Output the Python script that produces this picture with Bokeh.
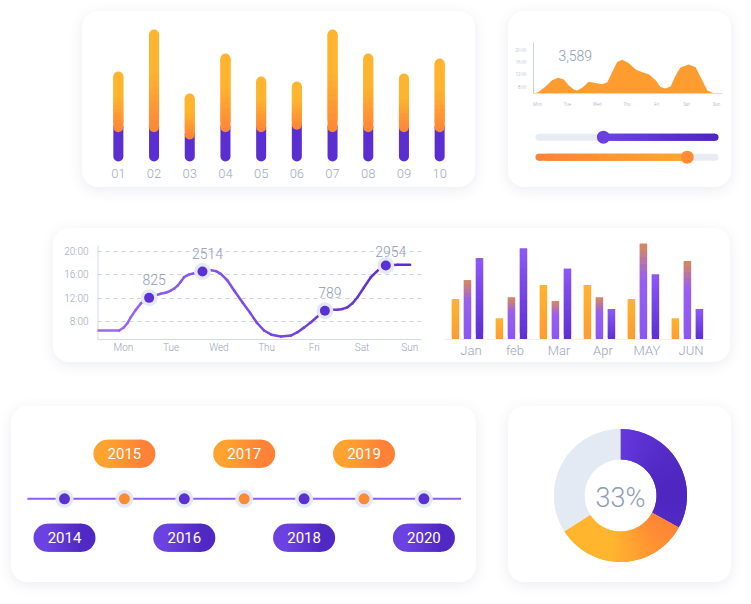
import numpy as np
from bokeh.plotting import figure
from bokeh.models import Range1d, FactorRange, FixedTicker, Spacer, Label
from bokeh.layouts import row, column
from bokeh.embed import file_html
from bokeh.resources import INLINE
from bokeh.core.properties import value

FONT = "Roboto"
LIGHT = "Roboto Light"

# ---------------- data ----------------
bar_labels = ["01", "02", "03", "04", "05", "06", "07", "08", "09", "10"]
bar_totals = [65.6, 100, 47.5, 80.3, 61.5, 57.4, 100, 80.3, 63.9, 76.2]
bar_base = [24, 24, 18, 24, 24, 26, 24, 24, 24, 24]

area_days = ["Mon", "Tue", "Wed", "Thu", "Fri", "Sat", "Sun"]
area_hours = [8, 12, 16, 20]
area_x = [-0.12, 0.04, 0.27, 0.49, 0.69, 0.88, 1.05, 1.22, 1.33, 1.50,
          1.72, 1.94, 2.17, 2.34, 2.50, 2.67, 2.84, 3.06, 3.29, 3.51,
          3.73, 3.96, 4.12, 4.29, 4.46, 4.63, 4.79, 5.07, 5.30, 5.52,
          5.69, 5.91, 6.19]
area_y = [6.0, 6.5, 8.3, 10.3, 11.1, 10.5, 8.6, 7.3, 7.0, 7.9,
          9.8, 9.4, 9.0, 9.6, 12.9, 16.2, 16.9, 15.8, 13.8, 12.9,
          12.2, 10.3, 8.1, 7.6, 8.3, 11.9, 14.4, 15.4, 14.5, 10.3,
          7.0, 6.1, 6.0]
area_total = "3,589"
slider_values = [0.366, 0.842]

line_days = ["Mon", "Tue", "Wed", "Thu", "Fri", "Sat", "Sun"]
line_hours = [8, 12, 16, 20]
line_x = [-0.545, -0.09, 0.006, 0.08, 0.153, 0.25, 0.363, 0.45, 0.537, 0.66,
          0.782, 0.90, 0.992, 1.07, 1.138, 1.20, 1.270, 1.37, 1.480, 1.656,
          1.75, 1.830, 1.94, 2.040, 2.18, 2.319, 2.50, 2.669, 2.80, 2.948,
          3.10, 3.300, 3.509, 3.648, 3.79, 3.929, 4.08, 4.222, 4.36, 4.486,
          4.60, 4.696, 4.80, 4.906, 5.04, 5.184, 5.35, 5.499, 5.75, 6.008]
line_y = [6.46, 6.46, 6.98, 7.7, 8.73, 9.9, 11.07, 11.7, 12.04, 12.45,
          12.73, 12.95, 13.29, 13.65, 14.14, 14.8, 15.56, 16.0, 16.25, 16.53,
          16.7, 16.75, 16.6, 16.14, 15.0, 13.29, 11.2, 9.31, 7.75, 6.46,
          5.75, 5.44, 5.61, 6.17, 7.0, 7.88, 8.95, 9.83, 10.0, 10.0,
          10.15, 10.44, 11.1, 12.15, 13.8, 15.56, 16.85, 17.56, 17.68, 17.68]
marker_x = [0.537, 1.656, 4.222, 5.499]
marker_y = [12.04, 16.53, 9.83, 17.56]
marker_labels = ["825", "2514", "789", "2954"]

month_labels = ["Jan", "feb", "Mar", "Apr", "MAY", "JUN"]
series_a = [42, 22, 57, 57, 42, 22]
series_b = [62, 44, 40, 44, 100, 82]
series_c = [85, 95, 74, 32, 68, 32]

years = [2014, 2015, 2016, 2017, 2018, 2019, 2020]

donut_values = [33, 33, 34]
donut_label = "33%"

# ---------------- helpers ----------------
def hex2rgb(h):
    h = h.lstrip("#")
    return tuple(int(h[i:i + 2], 16) for i in (0, 2, 4))


def mix(c1, c2, t):
    t = min(max(t, 0.0), 1.0)
    a, b = hex2rgb(c1), hex2rgb(c2)
    return "#%02x%02x%02x" % tuple(int(round(a[i] + (b[i] - a[i]) * t)) for i in range(3))


def ramp(stops, t):
    t = min(max(t, 0.0), 1.0)
    for (p0, c0), (p1, c1) in zip(stops[:-1], stops[1:]):
        if t <= p1:
            return mix(c0, c1, (t - p0) / (p1 - p0) if p1 > p0 else 0)
    return stops[-1][1]


CARD = {"background-color": "#ffffff", "border-radius": "16px",
        "box-shadow": "0 3px 14px rgba(60, 70, 120, 0.10)", "overflow": "hidden"}


def mkfig(w, h, xr, yr, **kw):
    p = figure(width=w, height=h, x_range=xr, y_range=yr, output_backend="svg",
               toolbar_location=None, title=None, **kw)
    p.outline_line_color = None
    p.background_fill_color = None
    p.border_fill_color = None
    p.xgrid.visible = False
    p.ygrid.visible = False
    return p


def style_axis(ax, size, color, standoff, line=None):
    ax.axis_line_color = line
    ax.major_tick_line_color = None
    ax.minor_tick_line_color = None
    ax.major_tick_out = 0
    ax.major_tick_in = 0
    ax.minor_tick_out = 0
    ax.major_label_text_font = LIGHT
    ax.major_label_text_font_size = size
    ax.major_label_text_color = color
    ax.major_label_standoff = standoff


# ---------------- card A: rounded bars ----------------
pA = mkfig(393, 176, FactorRange(*bar_labels), Range1d(-4.92, 110.66), y_axis_type=None,
           min_border_left=18, min_border_right=18, min_border_top=10, min_border_bottom=25)
pA.styles = CARD
style_axis(pA.xaxis[0], "13px", "#9DA9C1", 6)
pA.segment(x0=bar_labels, y0=0, x1=bar_labels, y1=bar_base, line_width=10,
           line_cap="round", line_color="#5A2ED0")
A_BOT, A_TOP = "#FF8836", "#FFB42E"
pA.scatter(x=bar_labels, y=bar_base, size=10, fill_color=A_BOT, line_color=None)
xs, y0s, y1s, cols = [], [], [], []
N = 14
for lab, v, b in zip(bar_labels, bar_totals, bar_base):
    for j in range(N):
        xs.append(lab)
        y0s.append(b + (v - b) * j / N)
        y1s.append(b + (v - b) * min(j + 2, N) / N)
        cols.append(mix(A_BOT, A_TOP, ((j + 0.5) / N) / 0.6))
pA.segment(x0=xs, y0=y0s, x1=xs, y1=y1s, line_width=10, line_cap="butt", line_color=cols)
pA.scatter(x=bar_labels, y=bar_totals, size=10, fill_color=A_TOP, line_color=None)

# ---------------- card B: area + sliders ----------------
pB1 = mkfig(223, 100, Range1d(-0.134, 6.2), Range1d(6, 22.5),
            min_border_left=25, min_border_right=9, min_border_top=31, min_border_bottom=18)
pB1.varea(x=area_x, y1=6, y2=area_y, fill_color="#FF9C2F")
style_axis(pB1.xaxis[0], "4.5px", "#9AA5BF", 8, "#D6DCE7")
pB1.xaxis[0].ticker = FixedTicker(ticks=list(range(len(area_days))))
pB1.xaxis[0].major_label_overrides = {i: d for i, d in enumerate(area_days)}
style_axis(pB1.yaxis[0], "4.5px", "#9AA5BF", 7, "#C9D1DE")
pB1.yaxis[0].ticker = FixedTicker(ticks=area_hours)
pB1.yaxis[0].major_label_overrides = {h: "%d:00" % h for h in area_hours}
pB1.add_layout(Label(x=0.70, y=18.3, text=area_total, text_font=LIGHT, text_font_size="14px",
                     text_color="#8C9AB5", text_align="left", text_baseline="middle"))

pB2 = mkfig(223, 76, Range1d(-0.03125, 1.0426), Range1d(3.515, -0.285),
            x_axis_type=None, y_axis_type=None,
            min_border_left=25, min_border_right=9, min_border_top=0, min_border_bottom=0)
slider_rows = [1, 2]
pB2.segment(x0=[0, 0], y0=slider_rows, x1=[1, 1], y1=slider_rows, line_width=7,
            line_cap="round", line_color="#E6EBF4")
v1, v2 = slider_values
P_L, P_R = "#6D42E4", "#4F26C0"
O_L, O_R = "#FF8236", "#FFA72B"
M = 20
sx0, sx1, sy, sc = [], [], [], []
for j in range(M):
    sx0.append(v1 + (1 - v1) * j / M)
    sx1.append(v1 + (1 - v1) * min(j + 2, M) / M)
    sy.append(slider_rows[0])
    sc.append(mix(P_L, P_R, (j + 0.5) / M))
for j in range(M):
    sx0.append(v2 * j / M)
    sx1.append(v2 * min(j + 2, M) / M)
    sy.append(slider_rows[1])
    sc.append(mix(O_L, O_R, (j + 0.5) / M))
pB2.scatter(x=[1, 0], y=slider_rows, size=7, fill_color=[P_R, O_L], line_color=None)
pB2.segment(x0=sx0, y0=sy, x1=sx1, y1=sy, line_width=7, line_cap="butt", line_color=sc)
pB2.scatter(x=[v1, v2], y=slider_rows, size=13, fill_color=["#6A3EE1", "#FF8C34"], line_color=None)

cardB = column(pB1, pB2, styles=CARD)

# ---------------- card C: line + grouped bars ----------------
C1_X = (-0.545, 6.247)
C1_Y = (4.93, 22.34)
pC1 = mkfig(379, 134, Range1d(*C1_X), Range1d(*C1_Y),
            min_border_left=44, min_border_right=11, min_border_top=9, min_border_bottom=23)
pC1.ygrid.visible = True
pC1.ygrid[0].ticker = FixedTicker(ticks=line_hours)
pC1.ygrid[0].grid_line_dash = "4 4"
pC1.ygrid[0].grid_line_color = "#CCD4E0"
style_axis(pC1.yaxis[0], "10px", "#98A4BC", 9, None)
pC1.yaxis[0].ticker = FixedTicker(ticks=line_hours)
pC1.yaxis[0].major_label_overrides = {h: "%d:00" % h for h in line_hours}
# vertical axis line that stops a little above the last grid line
pC1.segment(x0=C1_X[0], y0=C1_Y[0], x1=C1_X[0], y1=max(line_hours) + 0.97,
            line_width=2, line_color="#D3DAE6")
style_axis(pC1.xaxis[0], "10px", "#98A4BC", 2, "#D3DAE6")
pC1.xaxis[0].ticker = FixedTicker(ticks=list(range(len(line_days))))
pC1.xaxis[0].major_label_overrides = {i: d for i, d in enumerate(line_days)}
lx = np.array(line_x)
ly = np.array(line_y)
fr = (lx[:-1] + lx[1:]) / 2
fr = (fr - lx.min()) / (lx.max() - lx.min())
pC1.segment(x0=lx[:-1], y0=ly[:-1], x1=lx[1:], y1=ly[1:], line_width=2.5, line_cap="round",
            line_color=[mix("#9C69F8", "#5A2CCF", t) for t in fr])
pC1.scatter(x=marker_x, y=marker_y, size=17, fill_color="#E4EAF5", line_color=None)
pC1.scatter(x=marker_x, y=marker_y, size=10, fill_color="#5B30D4", line_color=None)
label_dy = [-18, -18, -18, -14]
pC1.text(x=marker_x, y=marker_y, text=marker_labels, x_offset=5, y_offset=label_dy,
         text_align="center", text_baseline="middle", text_font=value(LIGHT),
         text_font_size="14px", text_color="#8D9BB6")

pC2 = mkfig(298, 134, Range1d(-0.545, 5.57), Range1d(0, 106.6), y_axis_type=None,
            min_border_left=11, min_border_right=18, min_border_top=9, min_border_bottom=23)
style_axis(pC2.xaxis[0], "13px", "#9AA6BE", 3, "#EEF1F6")
ticks = [i + 0.08 for i in range(len(month_labels))]
pC2.xaxis[0].ticker = FixedTicker(ticks=ticks)
pC2.xaxis[0].major_label_overrides = {t: m for t, m in zip(ticks, month_labels)}
offsets = [-0.273, 0.0, 0.273]
grads = [
    [(0.0, "#FFB42E"), (1.0, "#FF9A33")],
    [(0.0, "#DA8A55"), (0.35, "#985FEF"), (1.0, "#8A55F4")],
    [(0.0, "#8E59F8"), (1.0, "#5A2ED1")],
]
bx, bb, bt, bc = [], [], [], []
K = 14
for vals, off, g in zip([series_a, series_b, series_c], offsets, grads):
    for i, v in enumerate(vals):
        for j in range(K):
            bx.append(i + off)
            bb.append(v * j / K)
            bt.append(v * min(j + 2, K) / K)
            bc.append(ramp(g, 1 - (j + 0.5) / K))
pC2.vbar(x=bx, bottom=bb, top=bt, width=0.166, fill_color=bc, line_color=None)

cardC = row(pC1, pC2, styles=CARD)

# ---------------- card D: timeline ----------------
pD = mkfig(465, 176, Range1d(2013.115, 2020.878), Range1d(-83.7, 92.3),
           x_axis_type=None, y_axis_type=None, min_border=0)
pD.styles = CARD
pD.line(x=[years[0] - 0.62, years[-1] + 0.62], y=[0, 0], line_width=2, line_color="#8C5DF4")
node_cols = ["#5B30D3" if i % 2 == 0 else "#FF8A34" for i in range(len(years))]
pD.scatter(x=years, y=0, size=18, fill_color="#E2E9F4", line_color=None)
pD.scatter(x=years, y=0, size=11, fill_color=node_cols, line_color=None)
pill_rows = [-39 if i % 2 == 0 else 45 for i in range(len(years))]
HALF = 0.284
px0, px1, py, pc, capx, capy, capc = [], [], [], [], [], [], []
Q = 16
for i, (yr, r) in enumerate(zip(years, pill_rows)):
    cl, cr = ("#6C41E1", "#5028C3") if i % 2 == 0 else ("#FFA22F", "#FF8236")
    for j in range(Q):
        px0.append(yr - HALF + 2 * HALF * j / Q)
        px1.append(yr - HALF + 2 * HALF * min(j + 2, Q) / Q)
        py.append(r)
        pc.append(mix(cl, cr, (j + 0.5) / Q))
    capx += [yr - HALF, yr + HALF]
    capy += [r, r]
    capc += [cl, cr]
pD.scatter(x=capx, y=capy, size=28, fill_color=capc, line_color=None)
pD.segment(x0=px0, y0=py, x1=px1, y1=py, line_width=28, line_cap="butt", line_color=pc)
pD.text(x=years, y=pill_rows, text=[str(y) for y in years], text_align="center",
        text_baseline="middle", text_font=value(FONT), text_font_size="15px", text_color="#FFFFFF")

# ---------------- card E: donut ----------------
pE = mkfig(223, 176, Range1d(-112, 111), Range1d(-87, 89),
           x_axis_type=None, y_axis_type=None, min_border=0)
pE.styles = CARD
tot = float(sum(donut_values))
a_start = np.pi / 2
st, en, wc = [], [], []
W = 60
for k, v in enumerate(donut_values):
    span = 2 * np.pi * v / tot
    step = span / W
    for j in range(W):
        a1 = a_start - step * j
        a0 = a_start - step * (j + 1)
        mid = (a0 + a1) / 2
        cx = np.cos(mid)
        if k == 0:
            c = mix("#6639DE", "#4F27C0", cx)
        elif k == 1:
            c = mix("#FFB52E", "#FF8236", (cx + 0.2) / 1.1)
        else:
            c = "#E3EAF4"
        st.append(a0)
        en.append(a1 + (step if j > 0 else 0.0))
        wc.append(c)
    a_start -= span
pE.annular_wedge(x=0, y=0, inner_radius=36, outer_radius=66.5, inner_radius_units="screen",
                 outer_radius_units="screen", start_angle=st, end_angle=en,
                 fill_color=wc, line_color=None)
pE.text(x=[0], y=[-2], text=[donut_label], text_align="center", text_baseline="middle",
        text_font=value(LIGHT), text_font_size="27px", text_color="#8E9CB6")

layout = column(
    Spacer(height=11),
    row(Spacer(width=82), pA, Spacer(width=33), cardB),
    Spacer(height=41),
    row(Spacer(width=53), cardC),
    Spacer(height=44),
    row(Spacer(width=11), pD, Spacer(width=32), pE),
)

open("out.html", "w").write(file_html(layout, INLINE))
